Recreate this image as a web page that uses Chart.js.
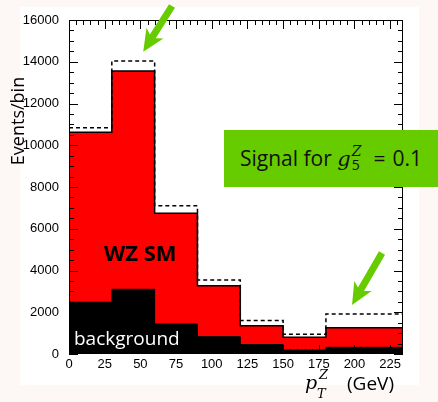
<!DOCTYPE html>
<html>
<head>
<meta charset="utf-8">
<script src="https://cdn.jsdelivr.net/npm/chart.js@4.4.1/dist/chart.umd.min.js"></script>
<style>
  html, body { margin: 0; padding: 0; }
  body { width: 438px; height: 402px; background: #fdf7f5; position: relative; overflow: hidden; font-family: "Open Sans", sans-serif; }
  #panel { position: absolute; left: 20px; top: 7px; width: 399px; height: 378px; background: #fff; }
  #chart { position: absolute; left: 0; top: 0; }
  #signal { position: absolute; left: 224px; top: 130px; width: 214px; height: 57px; background: #66cc00;
            font-size: 21px; line-height: 57px; padding-left: 16px; box-sizing: border-box; color: #111; white-space: nowrap; }
  #signal i { font-family: "DejaVu Serif", serif; }
  .stack { display: inline-block; vertical-align: middle; line-height: 14px; font-size: 14px; position: relative; top: -2px; margin-left: 1px; }
  .stack span { display: block; }
  .eq { margin: 0 7px 0 12px; }
  #arrows { position: absolute; left: 0; top: 0; }
</style>
</head>
<body>
<div id="panel"></div>
<canvas id="chart" width="438" height="402"></canvas>
<div id="signal">Signal for <i>g</i><span class="stack"><span style="font-style:italic;font-family:'DejaVu Serif'">Z</span><span>5</span></span><span class="eq">=</span>0.1</div>
<svg id="arrows" width="438" height="402">
  <polygon fill="#66cc00" points="0,-3.5 36,-3.5 32,-10 54,0 32,10 36,3.5 0,3.5" transform="translate(172,6) rotate(122.2)"/>
  <polygon fill="#66cc00" points="0,-3.5 42,-3.5 38,-10 60,0 38,10 42,3.5 0,3.5" transform="translate(382,253) rotate(120)"/>
</svg>
<script>
// bin edges (GeV) and events per bin
const binEdges = [0, 30, 60, 90, 120, 150, 180, 234];
const backgroundEvents = [2480, 3100, 1440, 830, 450, 190, 320];
const smEvents = [10620, 13560, 6740, 3270, 1350, 800, 1260];
const signalEvents = [10840, 14040, 7100, 3550, 1610, 950, 1920];
const xTickStep = 25;
const yTickStep = 2000;
const xMax = 234;
const yMax = 16000;

// stepped histogram points: one per bin edge, last value repeated
const toSteps = vals => binEdges.map((e, i) => ({ x: e, y: vals[Math.min(i, vals.length - 1)] }));

const tickFont = { family: 'Liberation Sans', size: 13 };

// frame with inward ticks on all four sides + titles
const framePlugin = {
    id: 'frame',
    afterDatasetsDraw(chart) {
        const { ctx, chartArea: a, scales: { x, y } } = chart;
        ctx.save();
        ctx.strokeStyle = '#000';
        ctx.lineWidth = 1;
        ctx.strokeRect(a.left + 0.5, a.top + 0.5, a.right - a.left - 1, a.bottom - a.top - 1);
        ctx.beginPath();
        for (let v = 0; v <= xMax; v += 5) {
            const len = v % xTickStep === 0 ? 9 : 5;
            const px = Math.round(x.getPixelForValue(v)) + 0.5;
            ctx.moveTo(px, a.bottom); ctx.lineTo(px, a.bottom - len);
            ctx.moveTo(px, a.top); ctx.lineTo(px, a.top + len);
        }
        for (let v = 0; v <= yMax; v += 500) {
            const len = v % yTickStep === 0 ? 9 : 5;
            const py = Math.round(y.getPixelForValue(v)) + 0.5;
            ctx.moveTo(a.left, py); ctx.lineTo(a.left + len, py);
            ctx.moveTo(a.right, py); ctx.lineTo(a.right - len, py);
        }
        ctx.stroke();
        ctx.restore();
    },
    afterDraw(chart) {
        const { ctx } = chart;
        ctx.save();
        ctx.fillStyle = '#000';
        // y title
        ctx.translate(19, 121);
        ctx.rotate(-Math.PI / 2);
        ctx.font = '18px "Open Sans"';
        ctx.textAlign = 'center';
        ctx.textBaseline = 'middle';
        ctx.fillText('Events/bin', 0, 0);
        ctx.setTransform(1, 0, 0, 1, 0, 0);
        ctx.textAlign = 'left';
        ctx.textBaseline = 'alphabetic';
        // x title
        ctx.font = 'italic 19px "DejaVu Serif"';
        ctx.fillText('p', 305, 389);
        ctx.font = 'italic 13px "DejaVu Serif"';
        ctx.fillText('T', 317, 398);
        ctx.fillText('Z', 319, 379);
        ctx.font = '19px "Open Sans"';
        ctx.fillText('(GeV)', 347, 390);
        // labels inside the plot
        ctx.font = 'bold 22px "Open Sans"';
        ctx.fillText('WZ SM', 104, 261);
        ctx.fillStyle = '#fff';
        ctx.font = '19px "Open Sans"';
        ctx.fillText('background', 74, 345);
        ctx.restore();
    }
};

new Chart(document.getElementById('chart'), {
    type: 'line',
    data: {
        datasets: [
            {
                label: 'Signal',
                data: toSteps(signalEvents),
                stepped: 'before',
                borderColor: '#000',
                borderWidth: 1.5,
                borderDash: [4, 3],
                fill: false,
                pointRadius: 0
            },
            {
                label: 'background',
                data: toSteps(backgroundEvents),
                stepped: 'before',
                borderColor: '#000',
                borderWidth: 1,
                backgroundColor: '#000',
                fill: 'origin',
                pointRadius: 0
            },
            {
                label: 'WZ SM',
                data: toSteps(smEvents),
                stepped: 'before',
                borderColor: '#000',
                borderWidth: 1.5,
                backgroundColor: '#ff0000',
                fill: 'origin',
                pointRadius: 0
            }
        ]
    },
    options: {
        responsive: false,
        animation: false,
        layout: { padding: { left: 0, right: 35, top: 20, bottom: 26 } },
        plugins: { legend: { display: false }, tooltip: { enabled: false } },
        scales: {
            x: {
                type: 'linear',
                min: 0,
                max: xMax,
                grid: { display: false },
                border: { display: false },
                ticks: { stepSize: xTickStep, includeBounds: false, color: '#000', font: tickFont, padding: -5, maxRotation: 0,
                         callback: v => String(v) },
                afterFit: s => { s.height = 22; }
            },
            y: {
                min: 0,
                max: yMax,
                grid: { display: false },
                border: { display: false },
                ticks: { stepSize: yTickStep, color: '#000', font: tickFont, padding: 2, callback: v => String(v) },
                afterFit: s => { s.width = 69; }
            }
        }
    },
    plugins: [framePlugin]
});
</script>
</body>
</html>
